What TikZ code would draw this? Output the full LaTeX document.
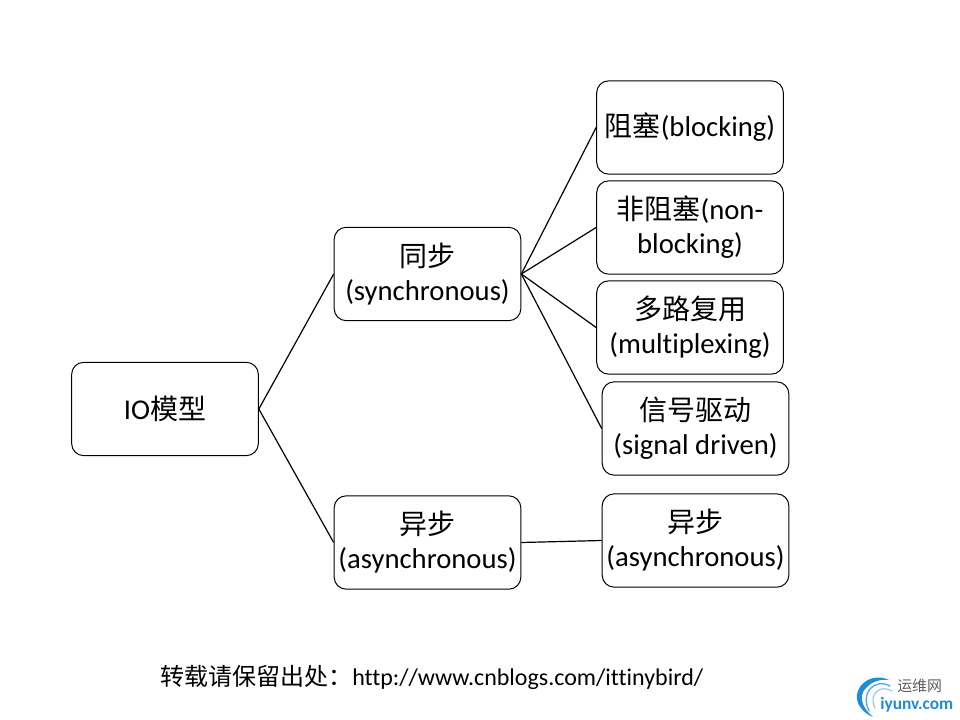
\documentclass[tikz,border=0pt]{standalone}
\usepackage{fontspec}
\setmainfont{Carlito}[Ligatures=NoCommon]
\newfontfamily\cjk{Noto Sans CJK SC}
\newcommand{\zh}[1]{{\cjk\fontsize{21pt}{25pt}\selectfont #1}}
\definecolor{logoblue}{RGB}{30,140,215}
\definecolor{logogray}{RGB}{95,95,95}
\tikzset{
  boxnode/.style={draw=black,line width=0.75pt,rounded corners=9pt,minimum width=140pt,minimum height=70pt,
    inner sep=0pt,align=center,font=\fontsize{21.5pt}{25.5pt}\selectfont,text=black},
  conn/.style={draw=black,line width=0.9pt}
}
\begin{document}
\begin{tikzpicture}[x=0.75pt,y=-0.75pt]
\useasboundingbox (0,0) rectangle (960,720);
\fill[white] (0,0) rectangle (960,720);
\node[boxnode] (io) at (165,409) {IO\zh{模型}};
\node[boxnode] (sync) at (427.5,274) {\zh{同步}\\(synchronous)};
\node[boxnode] (async) at (427.5,542.5) {\zh{异步}\\(asynchronous)};
\node[boxnode] (block) at (690,127.5) {\zh{阻塞}(blocking)};
\node[boxnode] (nonblock) at (690,227.5) {\zh{非阻塞}(non-\\blocking)};
\node[boxnode] (mux) at (690,327.5) {\zh{多路复用}\\(multiplexing)};
\node[boxnode] (signal) at (695.5,428.5) {\zh{信号驱动}\\(signal driven)};
\node[boxnode] (async2) at (695.5,540.5) {\zh{异步}\\(asynchronous)};
\draw[conn] (io.east) -- (sync.west);
\draw[conn] (io.east) -- (async.west);
\draw[conn] (sync.east) -- (block.west);
\draw[conn] (sync.east) -- (nonblock.west);
\draw[conn] (sync.east) -- (mux.west);
\draw[conn] (sync.east) -- (signal.west);
\draw[conn] (async.east) -- (async2.west);
\node[inner sep=0pt,anchor=west,font=\fontsize{18pt}{22pt}\selectfont] (note) at (160,677)
  {{\cjk\fontsize{18pt}{22pt}\selectfont 转载请保留出处：}http://www.cnblogs.com/ittinybird/};
% logo
\fill[logoblue] (889,680) .. controls (868,670) and (848,692) .. (861,708)
  .. controls (864,712) and (868,715) .. (873,717)
  .. controls (862,708) and (858,696) .. (866,688)
  .. controls (872,681) and (881,679) .. (889,680) -- cycle;
\draw[logoblue!75,line width=1pt,line cap=round] (890,686) .. controls (875,678) and (860,692) .. (869,711);
\draw[logoblue!50,line width=0.8pt,line cap=round] (892,691) .. controls (880,684) and (868,694) .. (875,708);
\node[inner sep=0pt,anchor=west,text=logogray,font=\cjk\fontsize{11.2pt}{13pt}\selectfont] (logozh) at (897,686) {运维网};
\node[inner sep=0pt,anchor=west,text=logoblue,font=\fontsize{13pt}{15pt}\selectfont\bfseries] (logoen) at (880,705) {iyunv.com};
\end{tikzpicture}
\end{document}
